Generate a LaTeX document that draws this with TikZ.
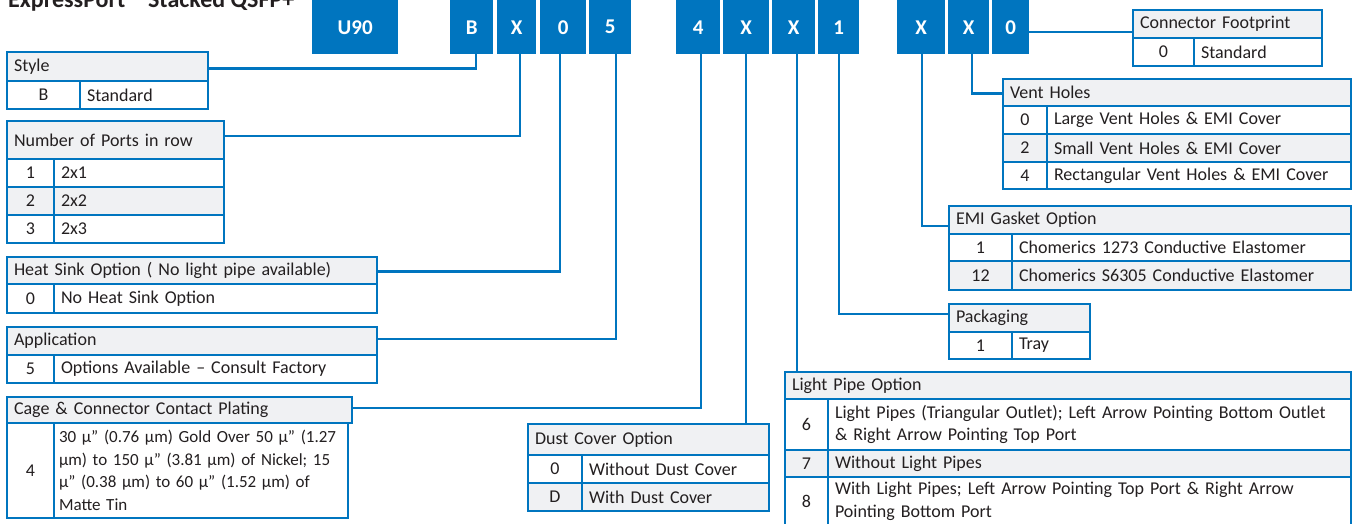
\documentclass[tikz,border=0pt]{standalone}
\usepackage{fontspec}
\setmainfont{Carlito}
\definecolor{brand}{HTML}{0075BF}
\definecolor{hdr}{HTML}{F0F1F3}
\definecolor{ink}{HTML}{231F20}
\tikzset{
  cellbox/.style={draw=brand, line width=2.4pt, inner ysep=0pt, inner xsep=7pt,
    text=ink, font=\fontsize{18}{22.5}\selectfont, anchor=north west, outer sep=0pt},
  codebox/.style={fill=brand, text=white, font=\bfseries\fontsize{21}{24}\selectfont,
    anchor=north west, inner sep=0pt, minimum height=54pt},
  link/.style={draw=brand, line width=2.4pt},
  smalltext/.style={font=\fontsize{17}{22.5}\selectfont},
}
\newcommand\tcell[8]{%
  \pgfmathsetmacro\cellw{#4-#2-14}%
  \pgfmathsetmacro\cellh{#5-#3}%
  \node[cellbox, fill=#6, align=#7, text width=\cellw pt, minimum height=\cellh pt] (#1) at (#2,#3) {#8};%
}
\newcommand\cbox[4]{%
  \pgfmathsetmacro\cellw{#3-#2}%
  \node[codebox, minimum width=\cellw pt] (#1) at (#2,0) {#4};%
}
\begin{document}
\begin{tikzpicture}[x=1pt,y=-1pt]
\useasboundingbox (0,0) rectangle (1352,524);
\node[anchor=base west, inner sep=0pt, text=ink, font=\bfseries\fontsize{24}{28}\selectfont] (title) at (8,8) {ExpressPort™ Stacked QSFP+};

% code boxes
\cbox{cU}{312}{398}{U90}
\cbox{cB}{450}{493}{B}
\cbox{cXa}{497}{536}{X}
\cbox{cZa}{540}{586}{0}
\cbox{cFive}{589}{631}{5}
\cbox{cFour}{676}{720}{4}
\cbox{cXb}{723}{769}{X}
\cbox{cXc}{772}{815}{X}
\cbox{cOne}{818}{859}{1}
\cbox{cXd}{897}{945}{X}
\cbox{cXe}{948}{989}{X}
\cbox{cZb}{992}{1029}{0}

% Style
\tcell{styH}{7}{52}{208}{81}{hdr}{left}{Style}
\tcell{styA}{7}{81}{80}{109}{white}{center}{B}
\tcell{styB}{80}{81}{208}{109}{white}{left}{Standard}
% Number of ports
\tcell{prtH}{7}{121}{224}{159}{hdr}{left}{Number of Ports in row}
\tcell{prtA1}{7}{159}{54}{187}{white}{center}{1}
\tcell{prtB1}{54}{159}{224}{187}{white}{left}{2x1}
\tcell{prtA2}{7}{187}{54}{215}{hdr}{center}{2}
\tcell{prtB2}{54}{187}{224}{215}{hdr}{left}{2x2}
\tcell{prtA3}{7}{215}{54}{243}{white}{center}{3}
\tcell{prtB3}{54}{215}{224}{243}{white}{left}{2x3}
% Heat sink
\tcell{hsH}{7}{257}{377}{284}{hdr}{left}{Heat Sink Option ( No light pipe available)}
\tcell{hsA}{7}{284}{54}{313}{white}{center}{0}
\tcell{hsB}{54}{284}{377}{313}{white}{left}{No Heat Sink Option}
% Application
\tcell{apH}{7}{327}{377}{355}{hdr}{left}{Application}
\tcell{apA}{7}{355}{54}{383}{white}{center}{5}
\tcell{apB}{54}{355}{377}{383}{white}{left}{Options Available – Consult Factory}
% Cage
\tcell{cgH}{7}{397}{352}{423}{hdr}{left}{Cage \& Connector Contact Plating}
\tcell{cgA}{7}{423}{54}{518}{white}{center}{4}
\tcell{cgB}{54}{423}{352}{518}{white, smalltext, inner xsep=5pt}{left}{30 µ” (0.76 µm) Gold Over 50 µ” (1.27\\µm) to 150 µ” (3.81 µm) of Nickel; 15\\µ” (0.38 µm) to 60 µ” (1.52 µm) of\\Matte Tin}
% Dust cover
\tcell{dcH}{528}{424}{769}{455}{hdr}{left}{Dust Cover Option}
\tcell{dcA1}{528}{455}{582}{483}{white}{center}{0}
\tcell{dcB1}{582}{455}{769}{483}{white}{left}{Without Dust Cover}
\tcell{dcA2}{528}{483}{582}{511}{hdr}{center}{D}
\tcell{dcB2}{582}{483}{769}{511}{hdr}{left}{With Dust Cover}
% Light pipe
\tcell{lpH}{785}{372}{1351}{399}{hdr}{left}{Light Pipe Option}
\tcell{lpA6}{785}{399}{828}{450}{white}{center}{6}
\tcell{lpB6}{828}{399}{1351}{450}{white}{left}{Light Pipes (Triangular Outlet); Left Arrow Pointing Bottom Outlet\\\& Right Arrow Pointing Top Port}
\tcell{lpA7}{785}{450}{828}{477}{hdr}{center}{7}
\tcell{lpB7}{828}{450}{1351}{477}{hdr}{left}{Without Light Pipes}
\tcell{lpA8}{785}{477}{828}{526}{white}{center}{8}
\tcell{lpB8}{828}{477}{1351}{526}{white}{left}{With Light Pipes; Left Arrow Pointing Top Port \& Right Arrow\\Pointing Bottom Port}
% Packaging
\tcell{pkH}{949}{304}{1090}{332}{hdr}{left}{Packaging}
\tcell{pkA}{949}{332}{1012}{359}{white}{center}{1}
\tcell{pkB}{1012}{332}{1090}{359}{white}{left}{Tray}
% EMI gasket
\tcell{emH}{949}{206}{1351}{234}{hdr}{left}{EMI Gasket Option}
\tcell{emA1}{949}{234}{1012}{261}{white}{center}{1}
\tcell{emB1}{1012}{234}{1351}{261}{white}{left}{Chomerics 1273 Conductive Elastomer}
\tcell{emA2}{949}{261}{1012}{290}{hdr}{center}{12}
\tcell{emB2}{1012}{261}{1351}{290}{hdr}{left}{Chomerics S6305 Conductive Elastomer}
% Vent holes
\tcell{vhH}{1003}{79}{1351}{106}{hdr}{left}{Vent Holes}
\tcell{vhA1}{1003}{106}{1047}{134}{white}{center}{0}
\tcell{vhB1}{1047}{106}{1351}{134}{white}{left}{Large Vent Holes \& EMI Cover}
\tcell{vhA2}{1003}{134}{1047}{162}{hdr}{center}{2}
\tcell{vhB2}{1047}{134}{1351}{162}{hdr}{left}{Small Vent Holes \& EMI Cover}
\tcell{vhA3}{1003}{162}{1047}{189}{white}{center}{4}
\tcell{vhB3}{1047}{162}{1351}{189}{white}{left}{Rectangular Vent Holes \& EMI Cover}
% Connector footprint
\tcell{cfH}{1133}{10}{1322}{38}{hdr}{left}{Connector Footprint}
\tcell{cfA}{1133}{38}{1194}{66}{white}{center}{0}
\tcell{cfB}{1194}{38}{1322}{66}{white}{left}{Standard}

% connectors
\draw[link] ([xshift=4pt]cB.south) |- ([yshift=-2pt]styH.east);
\draw[link] ([xshift=3pt]cXa.south) |- ([yshift=4pt]prtH.east);
\draw[link] ([xshift=-3pt]cZa.south) |- ([yshift=-1pt]hsH.east);
\draw[link] ([xshift=6pt]cFive.south) |- ([yshift=2pt]apH.east);
\draw[link] ([xshift=3pt]cFour.south) |- ([yshift=2pt]cgH.east);
\draw[link] (cXb.south) -- (cXb.south |- dcH.north);
\draw[link] ([xshift=3pt]cXc.south) -- ([xshift=3pt]cXc.south |- lpH.north);
\draw[link] ([xshift=0.5pt]cOne.south) |- ([yshift=4pt]pkH.west);
\draw[link] ([xshift=1pt]cXd.south) |- ([yshift=-6pt]emH.west);
\draw[link] ([xshift=3pt]cXe.south) |- ([yshift=-1pt]vhH.west);
\draw[link] ([yshift=-5pt]cZb.east) -- ([yshift=-5pt]cZb.east -| cfH.west);
\end{tikzpicture}
\end{document}
